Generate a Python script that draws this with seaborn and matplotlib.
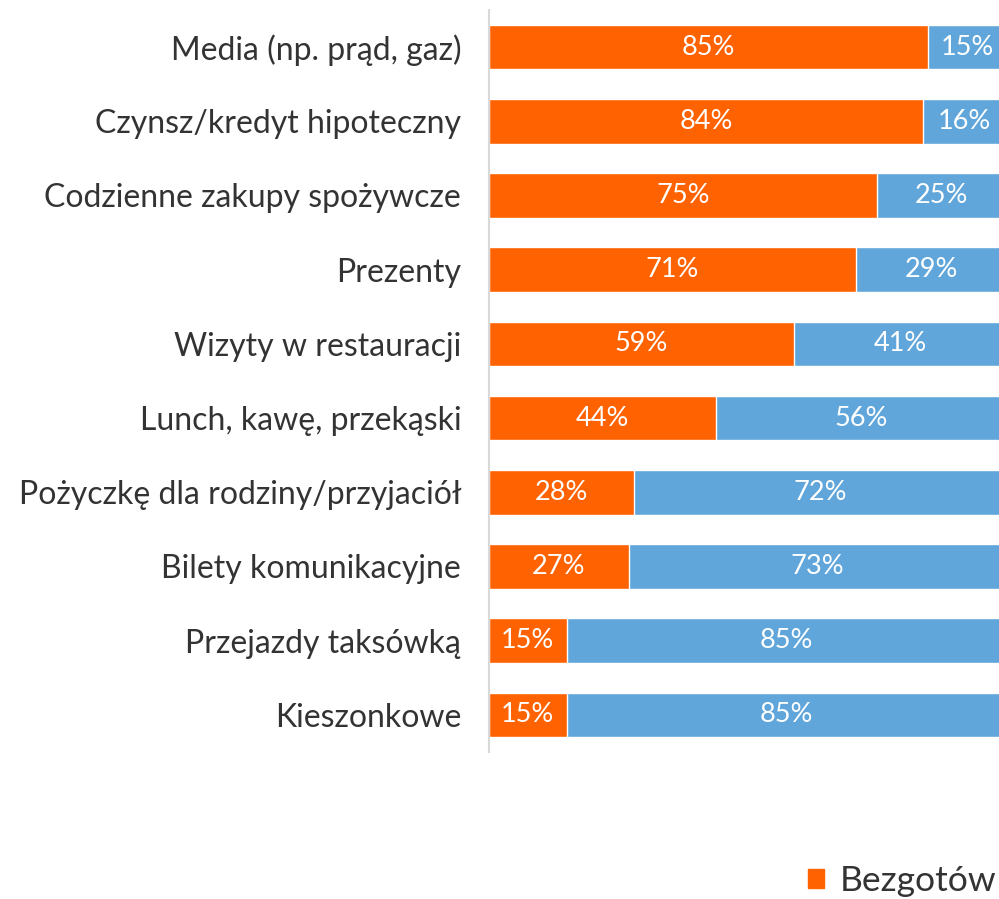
import matplotlib
matplotlib.use("Agg")
import matplotlib.pyplot as plt
import seaborn as sns
import pandas as pd
from matplotlib.patches import Patch

categories = [
    "Media (np. prąd, gaz)",
    "Czynsz/kredyt hipoteczny",
    "Codzienne zakupy spożywcze",
    "Prezenty",
    "Wizyty w restauracji",
    "Lunch, kawę, przekąski",
    "Pożyczkę dla rodziny/przyjaciół",
    "Bilety komunikacyjne",
    "Przejazdy taksówką",
    "Kieszonkowe",
]
bezgotowkowo = [85, 84, 75, 71, 59, 44, 28, 27, 15, 15]
gotowka = [15, 16, 25, 29, 41, 56, 72, 73, 85, 85]
legend_labels = ["Bezgotów"]

ORANGE = "#FF6200"
BLUE = "#60A6DA"

sns.set_theme(style="white")
plt.rcParams["font.family"] = ["Lato", "DejaVu Sans"]

df = pd.DataFrame({"cat": categories, "cashless": bezgotowkowo, "cash": gotowka})
df["total"] = df["cashless"] + df["cash"]

fig = plt.figure(figsize=(9.99, 8.99), dpi=100)
ax = fig.add_axes([489 / 999, 1 - 752 / 899, (1006 - 489) / 999, (752 - 10) / 899])

sns.barplot(data=df, x="total", y="cat", color=BLUE, orient="h", width=0.6,
            saturation=1, ax=ax)
sns.barplot(data=df, x="cashless", y="cat", color=ORANGE, orient="h", width=0.6,
            saturation=1, ax=ax)

cont_orange = ax.containers[1]

for bar, c, g in zip(cont_orange, bezgotowkowo, gotowka):
    y = bar.get_y() + bar.get_height() / 2
    ax.text(c / 2, y, f"{c}%", ha="center", va="center", color="white", fontsize=19.5)
    ax.text(c + g / 2, y, f"{g}%", ha="center", va="center", color="white", fontsize=19.5)

ax.set_xlim(0, 100)
ax.set_ylim(9.5, -0.5)
ax.set_xlabel("")
ax.set_ylabel("")
ax.set_xticks([])
ax.tick_params(axis="y", labelsize=23, colors="#333333", length=0, pad=20)
for s in ["top", "right", "bottom"]:
    ax.spines[s].set_visible(False)
ax.spines["left"].set_color("#D9D9D9")
ax.spines["left"].set_linewidth(1.5)

handles = [Patch(color=ORANGE)]
fig.legend(handles, legend_labels, loc="lower left", bbox_to_anchor=(806 / 999, 0.0),
           frameon=False, fontsize=25.5, handlelength=0.45, handleheight=0.45,
           handletextpad=0.45, labelcolor="#333333", borderpad=0.05, borderaxespad=0.0)

fig.savefig("out.png", dpi=100)
